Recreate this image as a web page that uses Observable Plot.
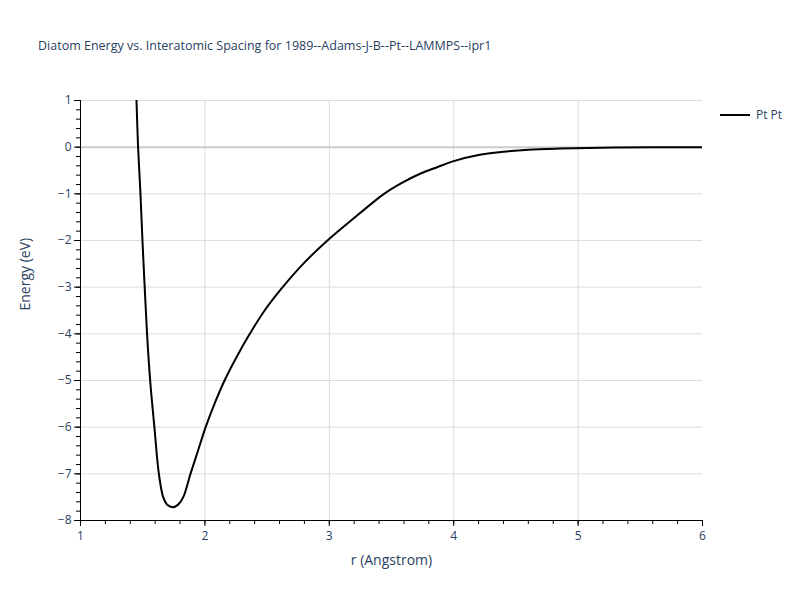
<!DOCTYPE html>
<html>
<head>
<meta charset="utf-8">
<script src="https://cdn.jsdelivr.net/npm/d3@7"></script>
<script src="https://cdn.jsdelivr.net/npm/@observablehq/plot@0.6"></script>
<style>
  body { margin: 0; background: #fff; }
  #wrap { position: relative; width: 800px; height: 600px; font-family: "Open Sans", "DejaVu Sans", sans-serif; }
  #title { position: absolute; left: 38px; top: 37px; font-size: 12.5px; color: #2a3f5f; white-space: nowrap; }
  #legend { position: absolute; left: 720px; top: 106px; font-size: 12px; color: #2a3f5f; display: flex; align-items: center; }
  #legend .sw { width: 30px; height: 2px; background: #000; margin-right: 6px; }
</style>
</head>
<body>
<div id="wrap">
  <div id="chart"></div>
  <div id="title">Diatom Energy vs. Interatomic Spacing for 1989--Adams-J-B--Pt--LAMMPS--ipr1</div>
  <div id="legend"><div class="sw"></div><span>Pt Pt</span></div>
</div>
<script>
const seriesName = "Pt Pt";
const rValues = [1.450, 1.463, 1.482, 1.498, 1.516, 1.535, 1.560, 1.594, 1.630, 1.665, 1.700, 1.742, 1.785, 1.826, 1.884, 1.945, 2.006, 2.077, 2.158, 2.254, 2.361, 2.480, 2.625, 2.790, 2.985, 3.230, 3.440, 3.580, 3.730, 3.866, 4.000, 4.200, 4.400, 4.600, 4.860, 5.300, 6.000];
const energyValues = [1.0, 0.0, -1.0, -2.0, -3.0, -4.0, -5.0, -6.0, -7.0, -7.5, -7.67, -7.714, -7.66, -7.5, -7.0, -6.5, -6.0, -5.5, -5.0, -4.5, -4.0, -3.5, -3.0, -2.5, -2.0, -1.45, -1.0, -0.77, -0.57, -0.43, -0.30, -0.17, -0.10, -0.055, -0.03, -0.006, 0.0];
const xTicks = [1, 2, 3, 4, 5, 6];
const yTicks = [-8, -7, -6, -5, -4, -3, -2, -1, 0, 1];

const data = rValues.map((r, i) => ({r, e: energyValues[i]}));
const xMinor = d3.range(1, 6.001, 0.2).map(v => +v.toFixed(1));
const yMinor = d3.range(-8, 1.001, 0.2).map(v => +v.toFixed(1));
const col = "#2a3f5f";
const fmt = d3.format("d");

const chart = Plot.plot({
  width: 800,
  height: 600,
  marginLeft: 80,
  marginRight: 98,
  marginTop: 100,
  marginBottom: 80,
  style: {fontFamily: "'Open Sans', 'DejaVu Sans', sans-serif", fontSize: "12px", color: col, background: "#fff"},
  x: {domain: [1, 6]},
  y: {domain: [-8, 1]},
  marks: [
    Plot.gridX(xTicks.filter(d => d > 1 && d < 6), {stroke: "#dcdcdc", strokeOpacity: 1}),
    Plot.gridY(yTicks.filter(d => d !== 0 && d > -8), {stroke: "#dcdcdc", strokeOpacity: 1}),
    Plot.ruleY([0], {stroke: "#cccccc", strokeWidth: 2}),
    Plot.line(data, {x: "r", y: "e", stroke: "#000", strokeWidth: 2, curve: "catmull-rom", clip: true}),
    Plot.ruleY([-8], {stroke: "#000", strokeWidth: 1}),
    Plot.ruleX([1], {stroke: "#000", strokeWidth: 1}),
    Plot.axisX(xMinor, {tickSize: 4, text: null, label: null, stroke: "#000"}),
    Plot.axisX(xTicks, {tickSize: 6, tickPadding: 5, tickFormat: fmt, label: null, stroke: "#000", fill: col, fontSize: 12}),
    Plot.axisY(yMinor, {tickSize: 4, text: null, label: null, stroke: "#000"}),
    Plot.axisY(yTicks, {tickSize: 6, tickPadding: 3, tickFormat: fmt, label: null, stroke: "#000", fill: col, fontSize: 12}),
    Plot.text(["r (Angstrom)"], {frameAnchor: "bottom", dy: 44, text: d => d, fill: col, fontSize: 14}),
    Plot.text(["Energy (eV)"], {frameAnchor: "left", dx: -55, rotate: -90, text: d => d, fill: col, fontSize: 14})
  ]
});
document.getElementById("chart").appendChild(chart);
</script>
</body>
</html>
